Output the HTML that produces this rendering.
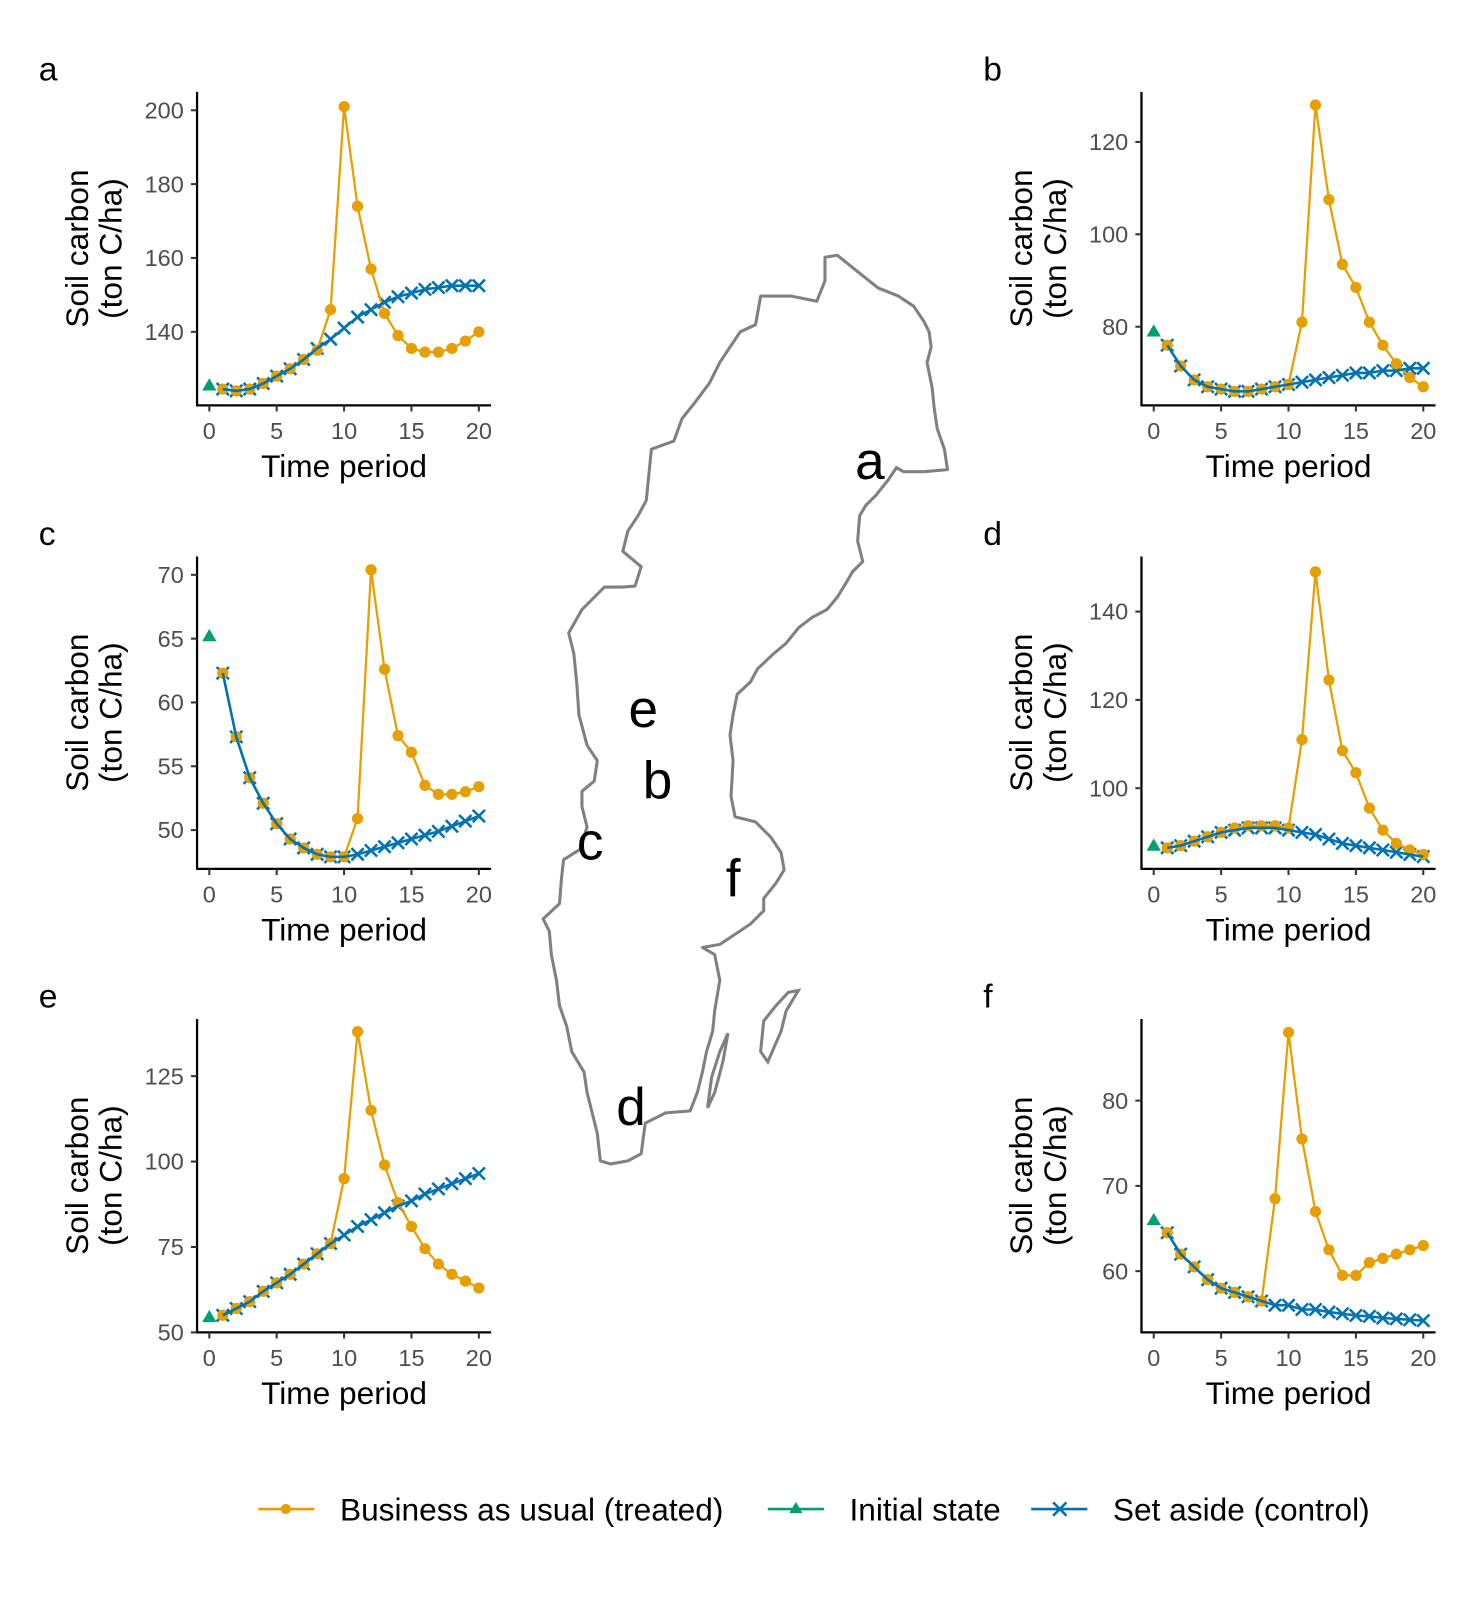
<!DOCTYPE html>
<html><head><meta charset="utf-8">
<style>
html,body{margin:0;padding:0;background:#fff;}
svg{display:block;font-family:"Liberation Sans",Arial,sans-serif;}
</style></head>
<body>
<svg id="chart" width="1476" height="1600" viewBox="0 0 1476 1600">
<g transform="scale(1.021)">
<g id="map">
<path fill="none" stroke="#808080" stroke-width="3" stroke-linejoin="round" d="M808,252 L820,250 L830,258 L845,270 L860,282 L880,290 L895,300 L905,315 L910,325 L912,340 L908,355 L913,380 L915,400 L918,420 L925,440 L928,460 L905,462 L885,462 L878,458 L870,470 L858,485 L848,495 L842,505 L840,530 L845,550 L835,560 L828,572 L820,585 L810,597 L795,605 L782,615 L770,630 L758,640 L742,655 L735,668 L722,680 L718,700 L715,720 L718,745 L716,780 L720,800 L740,805 L755,820 L765,835 L768,852 L760,865 L748,880 L748,892 L735,905 L720,915 L705,925 L688,928 L700,935 L705,960 L700,990 L698,1010 L692,1030 L688,1050 L683,1070 L676,1088 L652,1090 L632,1100 L628,1130 L615,1137 L598,1140 L588,1137 L585,1110 L580,1090 L575,1070 L572,1050 L560,1030 L555,1005 L548,985 L545,960 L540,935 L538,912 L532,900 L548,885 L550,860 L552,842 L568,832 L575,810 L570,790 L570,775 L582,765 L585,745 L575,730 L567,700 L565,670 L562,640 L557,620 L570,597 L592,575 L610,575 L622,574 L628,555 L610,540 L615,520 L625,505 L633,490 L635,470 L638,440 L660,432 L668,410 L680,395 L695,375 L705,355 L715,340 L725,325 L740,318 L745,290 L775,290 L800,295 L808,275 Z"/>
<path fill="none" stroke="#808080" stroke-width="3" d="M772,972 L782,970 L770,990 L765,1010 L752,1040 L745,1030 L748,1000 L760,985 Z"/>
<path fill="none" stroke="#808080" stroke-width="3" d="M713,1012 L708,1040 L700,1070 L693,1085 L697,1055 L705,1030 Z"/>
<text x="852" y="469" font-size="52" text-anchor="middle">a</text>
<text x="630" y="712" font-size="52" text-anchor="middle">e</text>
<text x="644" y="782" font-size="52" text-anchor="middle">b</text>
<text x="578" y="842" font-size="52" text-anchor="middle">c</text>
<text x="718" y="878" font-size="52" text-anchor="middle">f</text>
<text x="618" y="1102" font-size="52" text-anchor="middle">d</text>
</g>
<g id="panels"></g>
<g id="legend">
<g>
<line x1="253" y1="1478" x2="308" y2="1478" stroke="#E69F00" stroke-width="2.5"/>
<circle cx="280" cy="1478" r="5" fill="#E69F00"/>
<text x="333" y="1489" font-size="31">Business as usual (treated)</text></g>
<g>
<line x1="752" y1="1478" x2="807" y2="1478" stroke="#009E73" stroke-width="2.5"/>
<path d="M779.5,1471 L786,1482 L773,1482 Z" fill="#009E73"/>
<text x="832" y="1489" font-size="31">Initial state</text></g>
<g>
<line x1="1010" y1="1478" x2="1065" y2="1478" stroke="#0072B2" stroke-width="2.5"/>
<path d="M1031.5,1471.5 L1044.5,1484.5 M1044.5,1471.5 L1031.5,1484.5" stroke="#0072B2" stroke-width="2.5"/>
<text x="1090" y="1489" font-size="31">Set aside (control)</text></g>
</g>
</g>
</svg>
<script>
const timeSteps = [1,2,3,4,5,6,7,8,9,10,11,12,13,14,15,16,17,18,19,20];
const xTicks = [0,5,10,15,20];

const initA = 125.5;
const bauA = [124.5,124,124.5,126,128,130,132.5,135,146,201,174,157,145,139,135.5,134.5,134.5,135.5,137.5,140];
const setA = [124.5,124,124.5,126,128,130,132.5,135.5,138,141,144,146,148,149.5,150.5,151.5,152,152.5,152.5,152.5];
const ticksA = [140,160,180,200];

const initB = 79;
const bauB = [76,71.5,68.5,67,66.5,66,66,66.5,67,67.5,81,128,107.5,93.5,88.5,81,76,72,69,67];
const setB = [76,71.5,68.5,67,66.5,66,66,66.5,67,67.5,68,68.5,69,69.5,70,70,70.5,70.5,71,71];
const ticksB = [80,100,120];

const initC = 65.2;
const bauC = [62.3,57.3,54.1,52.1,50.5,49.3,48.6,48.1,47.9,47.9,50.9,70.4,62.6,57.4,56.1,53.5,52.8,52.8,53,53.4];
const setC = [62.3,57.3,54.1,52.1,50.5,49.3,48.6,48.1,47.9,47.9,48.1,48.4,48.7,49.0,49.3,49.6,49.9,50.3,50.7,51.1];
const ticksC = [50,55,60,65,70];

const initD = 87;
const bauD = [86.5,87,88,89,90,91,91.5,91.5,91.5,91,111,149,124.5,108.5,103.5,95.5,90.5,87.5,86,85];
const setD = [86.5,87,88,89,90,90.5,91,91,91,90.5,90,89.5,88.5,87.5,87,86.5,86,85.5,85,84.5];
const ticksD = [100,120,140];

const initE = 54.5;
const bauE = [55,57,59,62,64.5,67,70,73,76,95,138,115,99,88,81,74.5,70,67,65,63];
const setE = [55,57,59,62,64.5,67,70,73,76,78.5,81,83,85,87,88.5,90.5,92,93.5,95,96.5];
const ticksE = [50,75,100,125];

const initF = 66;
const bauF = [64.5,62,60.5,59,58,57.5,57,56.5,68.5,88,75.5,67,62.5,59.5,59.5,61,61.5,62,62.5,63];
const setF = [64.5,62,60.5,59,58,57.5,57,56.5,56,56,55.5,55.5,55.2,55,54.8,54.7,54.5,54.4,54.3,54.2];
const ticksF = [60,70,80];

const layouts = [
 {id:'a', init:initA, bau:bauA, set:setA, ticks:ticksA, ax:193, x0:205, x20:469, v1:140, y1:325, v2:200, y2:108, top:90, bot:397},
 {id:'b', init:initB, bau:bauB, set:setB, ticks:ticksB, ax:1118, x0:1130, x20:1394, v1:80, y1:320, v2:120, y2:139, top:90, bot:397},
 {id:'c', init:initC, bau:bauC, set:setC, ticks:ticksC, ax:193, x0:205, x20:469, v1:50, y1:813, v2:70, y2:563, top:545, bot:851},
 {id:'d', init:initD, bau:bauD, set:setD, ticks:ticksD, ax:1118, x0:1130, x20:1394, v1:100, y1:772, v2:140, y2:599, top:545, bot:851},
 {id:'e', init:initE, bau:bauE, set:setE, ticks:ticksE, ax:193, x0:205, x20:469, v1:50, y1:1305, v2:125, y2:1054, top:998, bot:1305},
 {id:'f', init:initF, bau:bauF, set:setF, ticks:ticksF, ax:1118, x0:1130, x20:1394, v1:60, y1:1245, v2:80, y2:1078, top:998, bot:1305}
];
const NS='http://www.w3.org/2000/svg';
const root=document.getElementById('panels');
function mk(tag,attrs,parent){const e=document.createElementNS(NS,tag);for(const k in attrs)e.setAttribute(k,attrs[k]);parent.appendChild(e);return e;}

layouts.forEach(L=>{
  const g=mk('g',{},root);
  
  
  const xs=t=>L.x0+(L.x20-L.x0)*t/20;
  const ys=v=>L.y1+(L.y2-L.y1)*(v-L.v1)/(L.v2-L.v1);
  const lx=L.ax-155;
  const lab=mk('text',{x:lx,y:L.top-11,'font-size':33},g); lab.textContent=L.id;
  
  
  const ya=mk('line',{x1:L.ax,y1:L.top,x2:L.ax,y2:L.bot,stroke:'#000','stroke-width':2.2},g);
  
  
  const xa=mk('line',{x1:L.ax-1,y1:L.bot,x2:L.ax+288,y2:L.bot,stroke:'#000','stroke-width':2.2},g);
  
  
  L.ticks.forEach(v=>{
    const y=ys(v);
    mk('line',{x1:L.ax-6,y1:y,x2:L.ax,y2:y,stroke:'#333','stroke-width':2},g);
    const t=mk('text',{x:L.ax-13,y:y+8,'font-size':23,fill:'#4d4d4d','text-anchor':'end'},g);
    t.textContent=v;
    
    
  });
  xTicks.forEach(v=>{
    const x=xs(v);
    mk('line',{x1:x,y1:L.bot,x2:x,y2:L.bot+6,stroke:'#333','stroke-width':2},g);
    const t=mk('text',{x:x,y:L.bot+33,'font-size':23,fill:'#4d4d4d','text-anchor':'middle'},g);
    t.textContent=v;
    
    
  });
  const xt=mk('text',{x:L.ax+144,y:L.bot+70,'font-size':31,'text-anchor':'middle'},g);
  xt.textContent='Time period';
  
  
  const yt=mk('text',{transform:`translate(${L.ax-107},${(L.top+L.bot)/2}) rotate(-90)`,'font-size':31,'text-anchor':'middle'},g);
  
  
  const t1=mk('tspan',{x:0,y:0},yt); t1.textContent='Soil carbon';
  const t2=mk('tspan',{x:0,y:33},yt); t2.textContent='(ton C/ha)';
  timeSteps.forEach((t,i)=>{
    const x=xs(t),y=ys(L.set[i]);
    const m=mk('path',{d:`M${x-6},${y-6}L${x+6},${y+6}M${x+6},${y-6}L${x-6},${y+6}`,stroke:'#0072B2','stroke-width':2.5},g);
    
    
  });
  const bp=mk('polyline',{points:timeSteps.map((t,i)=>xs(t)+','+ys(L.bau[i])).join(' '),fill:'none',stroke:'#E69F00','stroke-width':2.2},g);
  
  
  timeSteps.forEach((t,i)=>{
    const c=mk('circle',{cx:xs(t),cy:ys(L.bau[i]),r:5.5,fill:'#E69F00'},g);
    
    
  });
  const sp=mk('polyline',{points:timeSteps.map((t,i)=>xs(t)+','+ys(L.set[i])).join(' '),fill:'none',stroke:'#0072B2','stroke-width':2.5},g);
  
  
  const ix=xs(0),iy=ys(L.init);
  const tri=mk('path',{d:`M${ix},${iy-7}L${ix+7},${iy+5}L${ix-7},${iy+5}Z`,fill:'#009E73'},g);
  
  
});
</script>
</body></html>
